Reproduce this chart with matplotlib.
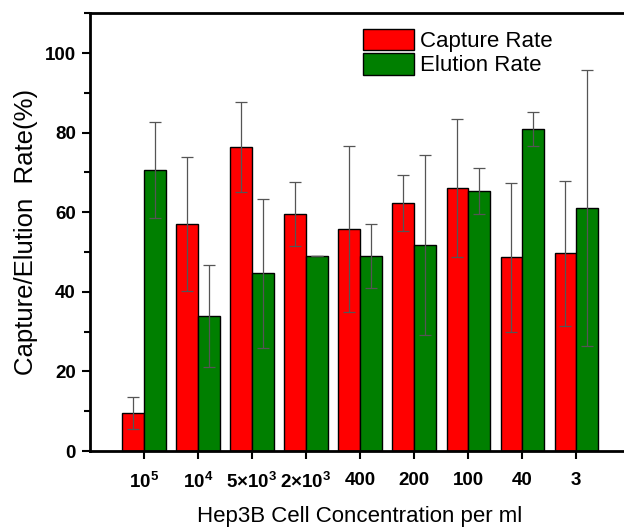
import numpy as np
import matplotlib
matplotlib.use('Agg')
import matplotlib.pyplot as plt

plt.rcParams['font.family'] = ['Liberation Sans', 'DejaVu Sans']
plt.rcParams['mathtext.fontset'] = 'custom'
plt.rcParams['mathtext.rm'] = 'Liberation Sans'
plt.rcParams['mathtext.bf'] = 'Liberation Sans:bold'

categories = [r'$\mathbf{10^5}$', r'$\mathbf{10^4}$', r'$\mathbf{5{\times}10^3}$',
              r'$\mathbf{2{\times}10^3}$', '400', '200', '100', '40', '3']
capture = [9.5, 57.0, 76.4, 59.5, 55.8, 62.3, 66.1, 48.7, 49.7]
capture_err = [4.0, 16.8, 11.3, 8.0, 20.8, 7.0, 17.4, 18.7, 18.2]
elution = [70.6, 33.9, 44.7, 49.0, 49.0, 51.8, 65.3, 80.9, 61.1]
elution_err = [12.0, 12.8, 18.7, 0.0, 8.0, 22.7, 5.7, 4.3, 34.6]

fig = plt.figure(figsize=(6.24, 5.30), dpi=100)
ax = fig.add_axes([0.144, 0.149, 0.866, 0.826])

x = np.arange(1, len(categories) + 1)
w = 0.4
err_kw = dict(ecolor='#555555', elinewidth=0.9, capsize=4, capthick=0.9)
ax.bar(x - w / 2, capture, w, yerr=capture_err, color='#ff0000', edgecolor='black',
       linewidth=1, label='Capture Rate', error_kw=err_kw)
ax.bar(x + w / 2, elution, w, yerr=elution_err, color='#007f00', edgecolor='black',
       linewidth=1, label='Elution Rate', error_kw=err_kw)

ax.set_xlim(0, 10)
ax.set_ylim(0, 110)
ax.set_xticks(x)
ax.set_xticklabels(categories, fontsize=13.5, fontweight='bold')
ax.set_yticks([0, 20, 40, 60, 80, 100])
ax.set_yticks([10, 30, 50, 70, 90, 110], minor=True)
for lab in ax.get_yticklabels():
    lab.set_fontweight('bold')
    lab.set_fontsize(13.5)
ax.tick_params(axis='x', direction='out', length=6, width=1.5, pad=9)
ax.tick_params(axis='y', which='major', direction='out', length=6, width=1.5, pad=4)
ax.tick_params(axis='y', which='minor', direction='out', length=4, width=1.5)
for s in ax.spines.values():
    s.set_linewidth(2)

ax.set_ylabel('Capture/Elution  Rate(%)', fontsize=18.5, labelpad=5)
ax.set_xlabel('Hep3B Cell Concentration per ml', fontsize=16, labelpad=10)

ax.legend(loc='upper left', bbox_to_anchor=(0.472, 1.005), frameon=False, fontsize=16,
          handlelength=2.3, handleheight=1.1, labelspacing=0.05, handletextpad=0.3,
          borderpad=0.3)

fig.savefig('out.png', dpi=100)
